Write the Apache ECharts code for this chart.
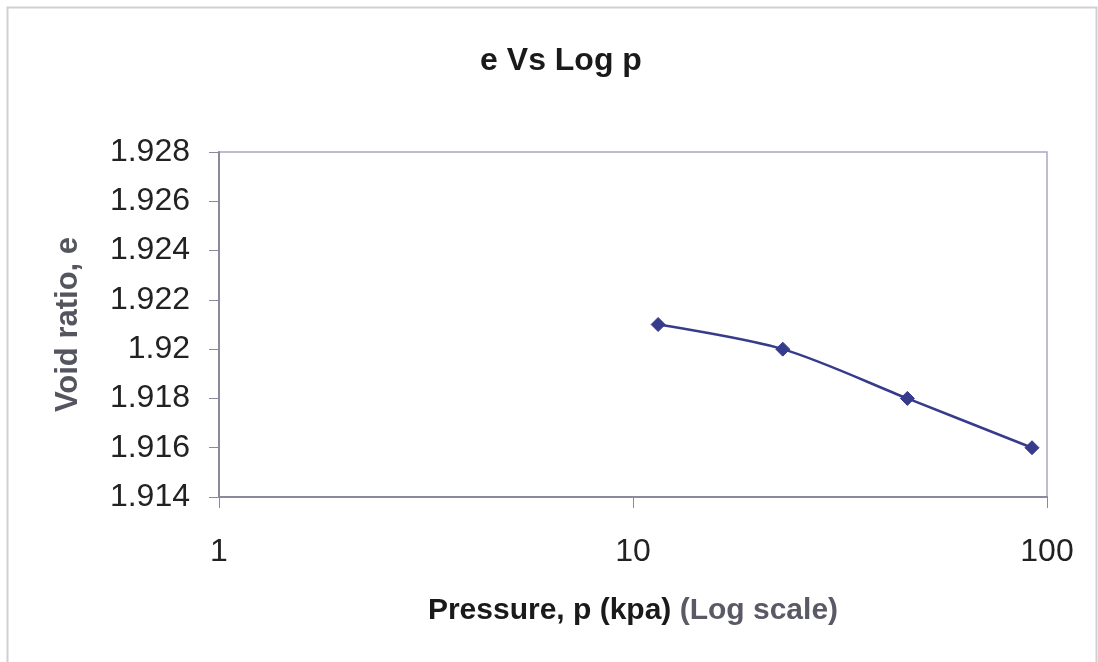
<!DOCTYPE html>
<html>
<head>
<meta charset="utf-8">
<style>
  html, body { margin: 0; padding: 0; background: #ffffff; }
  #chart { width: 1098px; height: 662px; }
</style>
<script src="https://cdn.jsdelivr.net/npm/echarts@6/dist/echarts.min.js"></script>
</head>
<body>
<div id="chart"></div>
<script>
// Consolidation test: void ratio against applied pressure (log scale)
const pressure = [11.5, 23, 46, 92];            // p, kPa
const voidRatio = [1.921, 1.920, 1.918, 1.916]; // e
const yTicks = { min: 1.914, max: 1.928, step: 0.002 };
const xRange = { min: 1, max: 100 };

const points = pressure.map((p, i) => [p, voidRatio[i]]);

const chart = echarts.init(document.getElementById('chart'), null, { renderer: 'canvas' });

const FONT = '"Liberation Sans", Arial, sans-serif';

chart.setOption({
  backgroundColor: '#ffffff',
  animation: false,
  title: {
    text: 'e Vs Log p',
    left: 556,
    textAlign: 'center',
    top: 40,
    textStyle: { fontFamily: FONT, fontSize: 32, fontWeight: 'bold', color: '#1a1a1a' }
  },
  graphic: [{
    type: 'rect',
    shape: { x: 7.5, y: 7.5, width: 1089, height: 700 },
    style: { fill: 'none', stroke: '#cfcfd6', lineWidth: 2 },
    silent: true
  }],
  grid: { left: 219, right: 51, top: 152, bottom: 165, show: true, borderColor: '#a8a8c4', borderWidth: 1.5, backgroundColor: '#ffffff' },
  xAxis: {
    type: 'log',
    logBase: 10,
    min: xRange.min,
    max: xRange.max,
    name: '{a|Pressure, p (kpa) }{b|(Log scale)}',
    nameLocation: 'middle',
    nameGap: 99,
    nameTextStyle: {
      rich: {
        a: { fontFamily: FONT, fontSize: 30, fontWeight: 'bold', color: '#1a1a1a' },
        b: { fontFamily: FONT, fontSize: 30, fontWeight: 'bold', color: '#5a5a66' }
      }
    },
    axisLine: { show: true, lineStyle: { color: '#8a8a9a', width: 2 } },
    axisTick: { show: true, inside: false, length: 11, lineStyle: { color: '#8a8a9a' } },
    minorTick: { show: false },
    splitLine: { show: false },
    axisLabel: { fontFamily: FONT, fontSize: 32, color: '#222222', margin: 39 }
  },
  yAxis: {
    type: 'value',
    min: yTicks.min,
    max: yTicks.max,
    interval: yTicks.step,
    name: 'Void ratio, e',
    nameLocation: 'middle',
    nameGap: 135,
    nameRotate: 90,
    nameTextStyle: { fontFamily: FONT, fontSize: 31, fontWeight: 'bold', color: '#55555f' },
    axisLine: { show: true, lineStyle: { color: '#8a8a9a', width: 2 } },
    axisTick: { show: true, inside: false, length: 10, lineStyle: { color: '#8a8a9a' } },
    splitLine: { show: false },
    axisLabel: { fontFamily: FONT, fontSize: 32, color: '#222222', margin: 29, formatter: v => String(+v.toFixed(3)) }
  },
  series: [{
    type: 'line',
    data: points,
    smooth: 0.3,
    symbol: 'diamond',
    symbolSize: 14,
    lineStyle: { color: '#373b8c', width: 2.5 },
    itemStyle: { color: '#373b8c', borderColor: '#373b8c' }
  }]
});
</script>
</body>
</html>
